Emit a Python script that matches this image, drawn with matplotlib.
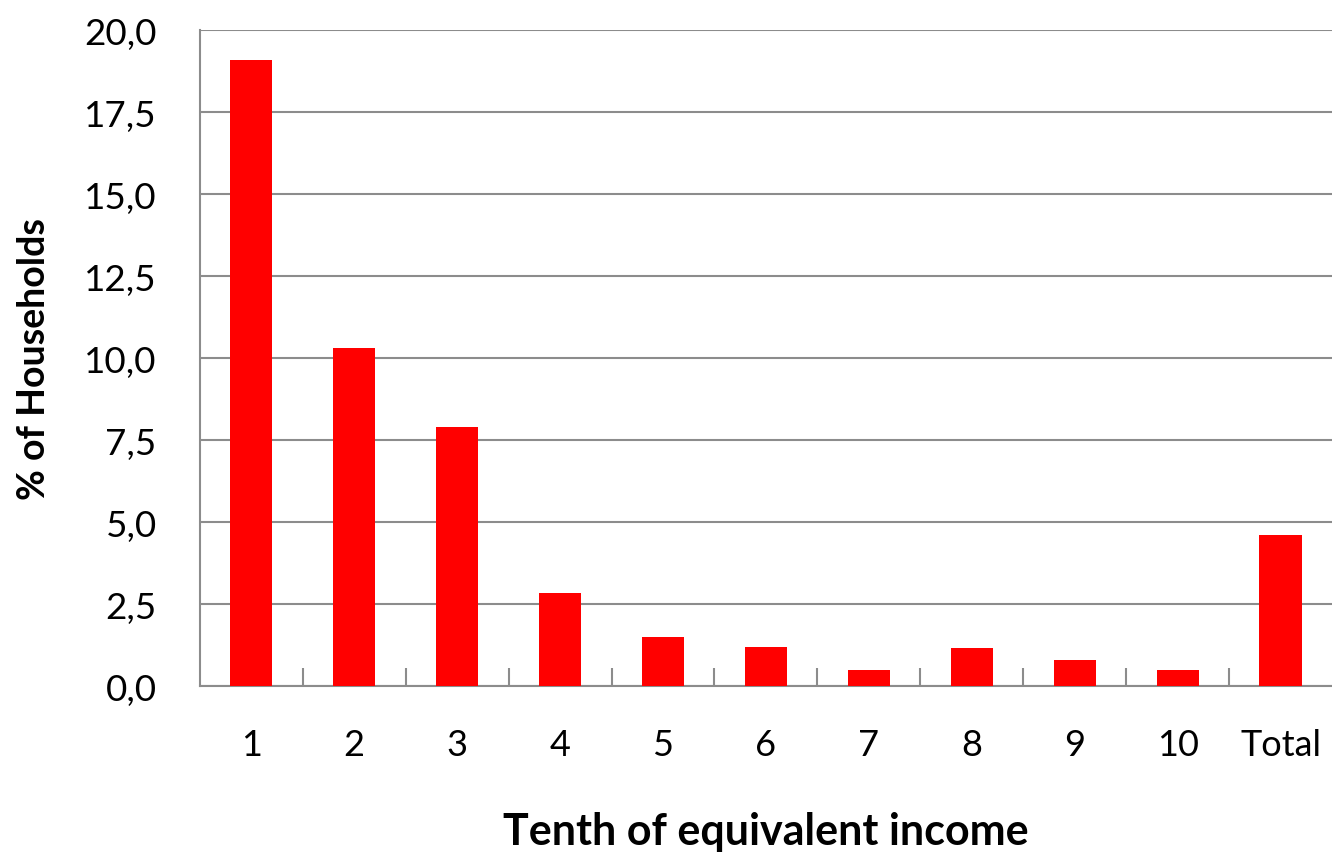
import numpy as np
import matplotlib
matplotlib.use("Agg")
import matplotlib.pyplot as plt
from matplotlib.ticker import FixedLocator, FuncFormatter

plt.rcParams['font.family'] = ['Lato', 'DejaVu Sans']

categories = ['1', '2', '3', '4', '5', '6', '7', '8', '9', '10', 'Total']
share = [19.1, 10.3, 7.9, 2.85, 1.5, 1.2, 0.5, 1.15, 0.8, 0.5, 4.6]
yticks = [0.0, 2.5, 5.0, 7.5, 10.0, 12.5, 15.0, 17.5, 20.0]

fig = plt.figure(figsize=(13.32, 8.53), dpi=100)
ax = fig.add_axes([0.150, 0.1946, 0.850, 0.769])

x = np.arange(len(categories))
ax.bar(x, share, width=0.41, color='#ff0000', zorder=3)

ax.set_xlim(-0.5, len(categories) - 0.5)
ax.set_ylim(0, 20)
ax.set_yticks(yticks)
ax.yaxis.set_major_formatter(FuncFormatter(lambda v, p: f"{v:.1f}".replace('.', ',')))
ax.grid(axis='y', color='#8c8c8c', linewidth=1.5, zorder=0)

ax.set_xticks(x)
ax.set_xticklabels(categories)
# small inward ticks between the category groups
ax.xaxis.set_minor_locator(FixedLocator(np.arange(0.5, len(categories) - 1, 1.0)))
ax.tick_params(axis='x', which='major', length=0, pad=30, labelsize=26)
ax.tick_params(axis='x', which='minor', direction='in', length=13, width=1.5, color='#8c8c8c')
ax.tick_params(axis='y', direction='in', length=0, pad=31, labelsize=26.5)

for side in ['top', 'right']:
    ax.spines[side].set_visible(False)
for side in ['left', 'bottom']:
    ax.spines[side].set_color('#8c8c8c')
    ax.spines[side].set_linewidth(1.5)

ax.set_xlabel('Tenth of equivalent income', fontsize=31, fontweight='bold', labelpad=36)
ax.set_ylabel('% of Households', fontsize=27, fontweight='bold', labelpad=24)

fig.savefig('out.png', dpi=100)
